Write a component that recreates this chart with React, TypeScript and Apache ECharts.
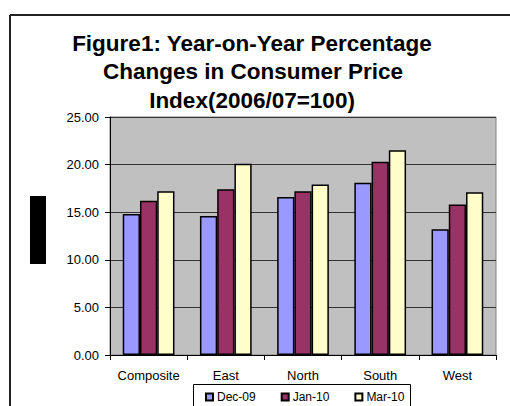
import React, { useEffect, useRef } from "react";
import * as echarts from "echarts";

const categories = ["Composite", "East", "North", "South", "West"];
const seriesNames = ["Dec-09", "Jan-10", "Mar-10"];
const dec09 = [14.8, 14.6, 16.6, 18.1, 13.2];
const jan10 = [16.2, 17.4, 17.2, 20.3, 15.8];
const mar10 = [17.2, 20.1, 17.9, 21.5, 17.1];
const yTicks = { min: 0, max: 25, interval: 5 };
const titleLines = [
  "Figure1: Year-on-Year Percentage",
  "Changes in Consumer Price",
  "Index(2006/07=100)",
];
const titleCenters = [252, 253, 252];
const colors = ["#9999FF", "#993366", "#FFFFCC"];

const FONT = "Liberation Sans, Arial, sans-serif";

export default function App() {
  const ref = useRef<HTMLDivElement>(null);
  useEffect(() => {
    if (!ref.current) return;
    const chart = echarts.init(ref.current, undefined, { renderer: "svg" });
    const values = [dec09, jan10, mar10];
    chart.setOption({
      animation: false,
      backgroundColor: "#fff",
      title: titleLines.map((t, i) => ({
        text: t,
        left: titleCenters[i],
        top: 29 + i * 28.5,
        textAlign: "center",
        padding: 0,
        textStyle: {
          fontFamily: FONT,
          fontWeight: "bold",
          fontSize: 22.5,
          lineHeight: 28.5,
          color: "#000",
        },
      })),
      legend: {
        data: seriesNames,
        left: 205,
        top: 391,
        itemWidth: 7,
        itemHeight: 7,
        itemGap: 25,
        icon: "rect",
        padding: 0,
        textStyle: {
          fontFamily: FONT,
          fontSize: 12,
          color: "#000",
          padding: [0, 0, 0, -1],
        },
      },
      grid: {
        left: 110,
        right: 14,
        top: 117,
        bottom: 51,
        show: true,
        backgroundColor: "#C0C0C0",
        borderColor: "#808080",
        borderWidth: 1,
      },
      xAxis: {
        type: "category",
        data: categories,
        axisLine: { lineStyle: { color: "#000", width: 1 } },
        axisTick: { show: true, length: 5, lineStyle: { color: "#000" } },
        axisLabel: {
          fontFamily: FONT,
          fontSize: 13,
          color: "#000",
          margin: 14,
          interval: 0,
        },
      },
      yAxis: {
        type: "value",
        min: yTicks.min,
        max: yTicks.max,
        interval: yTicks.interval,
        axisLine: { show: true, lineStyle: { color: "#000", width: 1 } },
        axisTick: { show: true, length: 5, lineStyle: { color: "#000" } },
        splitLine: { show: true, lineStyle: { color: "#333", width: 1 } },
        axisLabel: {
          fontFamily: FONT,
          fontSize: 13,
          color: "#000",
          margin: 11,
          formatter: (v: number) => v.toFixed(2),
        },
      },
      series: seriesNames.map((name, i) => ({
        name,
        type: "bar",
        data: values[i],
        barGap: "0%",
        barCategoryGap: "33%",
        itemStyle: { color: colors[i], borderColor: "#000", borderWidth: 1.5 },
      })),
      graphic: [
        {
          type: "line",
          shape: { x1: 10, y1: 15, x2: 510, y2: 15 },
          style: { stroke: "#222", lineWidth: 2 },
        },
        {
          type: "line",
          shape: { x1: 10, y1: 15, x2: 10, y2: 406 },
          style: { stroke: "#222", lineWidth: 2 },
        },
        {
          type: "rect",
          shape: { x: 30, y: 196, width: 16, height: 68 },
          style: { fill: "#000" },
        },
        {
          type: "rect",
          shape: { x: 193.5, y: 384.5, width: 217, height: 40 },
          style: { fill: "none", stroke: "#000", lineWidth: 1 },
        },
      ],
    });
    return () => chart.dispose();
  }, []);
  return (
    <div
      ref={ref}
      style={{ position: "absolute", left: 0, top: 0, width: 510, height: 406 }}
    />
  );
}
